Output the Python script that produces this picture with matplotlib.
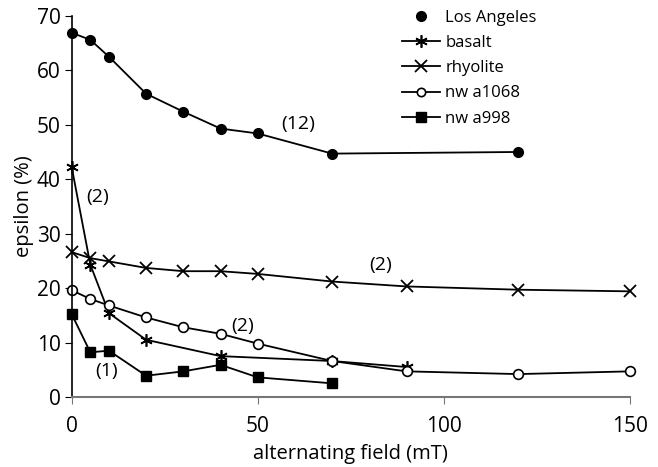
import matplotlib.pyplot as plt

plt.rcParams['font.family'] = ['Open Sans', 'DejaVu Sans']

la_x = [0, 5, 10, 20, 30, 40, 50, 70, 120]
la_y = [66.9, 65.6, 62.5, 55.7, 52.4, 49.3, 48.4, 44.7, 45.0]

basalt_x = [0, 5, 10, 20, 40, 70, 90]
basalt_y = [42.2, 24.3, 15.4, 10.5, 7.5, 6.6, 5.5]

rhyolite_x = [0, 5, 10, 20, 30, 40, 50, 70, 90, 120, 150]
rhyolite_y = [26.6, 25.5, 24.9, 23.7, 23.1, 23.1, 22.6, 21.2, 20.3, 19.7, 19.4]

a1068_x = [0, 5, 10, 20, 30, 40, 50, 70, 90, 120, 150]
a1068_y = [19.6, 18.0, 16.8, 14.6, 12.8, 11.6, 9.8, 6.6, 4.7, 4.2, 4.7]

a998_x = [0, 5, 10, 20, 30, 40, 50, 70]
a998_y = [15.2, 8.2, 8.5, 3.9, 4.7, 5.9, 3.6, 2.5]

notes = [("(12)", 61, 50.2), ("(2)", 7, 36.8), ("(2)", 83, 24.2),
         ("(2)", 46, 13.0), ("(1)", 9.5, 4.7)]

fig = plt.figure(figsize=(6.58, 4.67), dpi=100)
ax = fig.add_axes([0.109, 0.150, 0.848, 0.816])

ax.plot(la_x, la_y, color='black', lw=1.3, marker='o', ms=7, clip_on=False)
ax.plot(basalt_x, basalt_y, color='black', lw=1.3, marker=(6, 2, 0), ms=9,
        mew=1.2, clip_on=False)
ax.plot(rhyolite_x, rhyolite_y, color='black', lw=1.3, marker='x', ms=9,
        mew=1.3, clip_on=False)
ax.plot(a1068_x, a1068_y, color='black', lw=1.3, marker='o', ms=7, mfc='white',
        mew=1.2, clip_on=False)
ax.plot(a998_x, a998_y, color='black', lw=1.3, marker='s', ms=7, clip_on=False)

for txt, x, y in notes:
    ax.text(x, y, txt, fontsize=14, ha='center', va='center')

# legend (Los Angeles shown without a line)
h = [plt.Line2D([], [], color='black', ls='none', marker='o', ms=7),
     plt.Line2D([], [], color='black', lw=1.3, marker=(6, 2, 0), ms=9, mew=1.2),
     plt.Line2D([], [], color='black', lw=1.3, marker='x', ms=8, mew=1.3),
     plt.Line2D([], [], color='black', lw=1.3, marker='o', ms=6, mfc='white', mew=1.2),
     plt.Line2D([], [], color='black', lw=1.3, marker='s', ms=7)]
labels = ['Los Angeles', 'basalt', 'rhyolite', 'nw a1068', 'nw a998']
ax.legend(h, labels, loc='upper left', bbox_to_anchor=(0.565, 1.055),
          frameon=False, fontsize=12, handlelength=2.3, handletextpad=0.3,
          labelspacing=0.55)

ax.set_xlim(0, 150)
ax.set_ylim(0, 70)
ax.set_xticks([0, 50, 100, 150])
ax.set_yticks(range(0, 80, 10))
ax.spines['top'].set_visible(False)
ax.spines['right'].set_visible(False)
ax.spines['bottom'].set_color('#777777')
ax.spines['left'].set_linewidth(1.2)
ax.spines['bottom'].set_linewidth(1.5)
ax.tick_params(axis='x', colors='#777777', labelcolor='black', labelsize=15,
               length=5, pad=9)
ax.tick_params(axis='y', labelsize=15, length=5, pad=3)
ax.set_xlabel('alternating field (mT)', fontsize=14.5, labelpad=5)
ax.set_ylabel('epsilon (%)', fontsize=14.5, labelpad=2)

plt.savefig('out.png', dpi=100)
